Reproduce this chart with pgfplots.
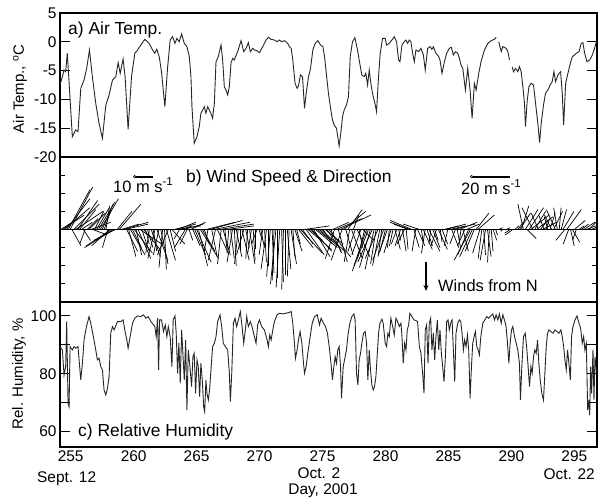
\documentclass[border=0pt]{standalone}
\usepackage{pgfplots}
\usepackage{pgfplotstable}
\pgfplotsset{compat=1.18}
\usetikzlibrary{arrows.meta}
\usepackage{fontspec}
\setmainfont{Liberation Sans}
\newcommand{\fs}[1]{\fontsize{#1}{#1}\selectfont}

\pgfplotstableread{
t T
254.15 -7.50
254.34 -6.05
254.47 -4.90
254.60 -5.19
254.73 -2.00
255.13 -16.47
255.40 -15.31
255.58 -15.60
255.80 -8.08
256.06 -6.63
256.27 -4.61
256.49 -1.42
256.72 -6.05
256.99 -10.68
257.25 -14.15
257.52 -16.76
257.79 -10.97
258.05 -9.24
258.32 -6.63
258.58 -6.05
258.77 -3.62
258.93 -5.47
259.16 -2.99
259.32 -6.05
259.56 -15.20
259.83 -6.05
260.09 -2.00
260.31 -1.42
260.57 -0.56
260.89 0.43
261.23 -0.27
261.50 -1.42
261.68 -2.00
261.84 -1.31
262.03 -2.58
262.21 -5.19
262.48 -11.26
262.69 -4.61
262.90 0.31
263.09 0.89
263.28 -0.27
263.44 0.60
263.62 0.02
263.81 1.35
264.02 -0.27
264.23 -0.84
264.42 -2.58
264.55 -6.05
264.63 -11.26
264.81 -17.63
265.03 -16.47
265.21 -14.73
265.34 -12.42
265.48 -11.84
265.61 -11.26
265.74 -12.42
265.88 -11.26
266.01 -11.84
266.14 -12.42
266.27 -13.29
266.41 -10.68
266.54 -3.45
266.72 -2.58
266.94 -0.56
267.07 -3.16
267.20 -7.79
267.33 -8.37
267.47 -9.24
267.60 -7.79
267.73 -3.74
267.86 -2.87
267.99 -3.16
268.26 -1.71
268.53 0.20
268.74 -1.71
268.93 -1.13
269.11 -0.15
269.27 -1.71
269.46 -1.13
269.59 -1.42
269.80 -1.54
269.99 -1.89
270.25 -0.84
270.52 0.31
270.70 0.78
270.92 0.43
271.18 0.31
271.39 0.02
271.58 0.31
271.76 0.02
271.98 0.20
272.24 -0.27
272.37 -0.84
272.51 -1.13
272.64 -3.16
272.82 -7.21
272.98 -8.08
273.09 -7.67
273.25 -5.76
273.41 -6.05
273.57 -11.55
273.70 -8.95
273.89 -6.05
274.05 -4.61
274.23 -1.42
274.42 -0.27
274.63 0.20
274.84 -0.56
275.03 -0.84
275.16 -2.58
275.47 -8.95
275.66 -11.84
275.79 -13.58
275.92 -14.44
276.11 -15.02
276.32 -18.09
276.45 -15.89
276.59 -13.00
276.72 -11.84
276.90 -10.97
277.06 -9.53
277.20 -2.58
277.38 0.02
277.57 0.72
277.78 -1.42
277.91 -3.16
278.12 -5.76
278.31 -6.05
278.44 -5.47
278.58 -7.50
278.71 -4.90
278.84 -7.21
278.97 -8.95
279.19 -10.97
279.29 -12.13
279.45 -6.05
279.58 -2.00
279.77 0.60
279.98 0.60
280.09 -0.56
280.30 -0.27
280.51 0.31
280.70 0.89
280.88 0.02
281.04 -3.16
281.15 -3.45
281.31 -0.56
281.49 0.02
281.63 0.31
281.76 -0.27
281.89 0.31
282.02 0.02
282.16 -2.00
282.29 -3.45
282.42 -1.42
282.63 -1.71
282.82 -1.13
283.01 -2.29
283.16 -4.90
283.35 -1.13
283.54 -0.84
283.69 -1.31
283.80 -0.84
284.01 -2.00
284.23 -2.58
284.33 -3.16
284.49 -5.47
284.68 -3.45
284.86 -2.00
285.07 -1.13
285.23 -0.96
285.39 -2.29
285.55 -1.71
285.74 -2.00
285.87 -2.87
286.00 -4.03
286.14 -4.61
286.35 -8.37
286.53 -4.61
286.72 -8.37
286.88 -13.29
287.06 -7.21
287.20 -8.37
287.41 -5.47
287.59 -3.45
287.86 -1.42
288.13 -0.27
288.39 0.20
288.66 0.43
288.79 0.78
288.90 nan
289.00 0.02
289.19 -1.71
289.32 -0.84
289.58 -1.13
289.72 -1.71
289.85 -3.16
289.95 nan
290.06 -4.32
290.17 -5.19
290.33 -4.61
290.51 -5.19
290.64 -4.32
290.78 -5.19
290.91 -7.79
291.04 -10.68
291.12 -14.73
291.25 -10.39
291.39 -7.79
291.57 -7.21
291.76 -7.50
291.92 -10.68
292.10 -14.15
292.24 -17.51
292.37 -14.15
292.55 -10.97
292.71 -8.95
292.90 -8.37
293.08 -7.50
293.24 -6.92
293.38 -5.19
293.51 -6.92
293.70 -5.76
293.91 -5.19
294.04 -8.95
294.15 -14.44
294.31 -7.21
294.49 -5.47
294.68 -3.74
294.84 -2.58
295.02 -2.29
295.15 -2.00
295.37 -1.71
295.55 -0.27
295.68 -0.15
295.82 -2.00
296.00 -3.45
296.22 -3.16
296.43 -2.29
296.61 -1.13
296.75 0.02
}\temp

\pgfplotstableread{
t RH
254.15 89.40
254.34 88.24
254.47 79.60
254.60 82.48
254.68 98.04
254.79 69.80
254.87 68.65
254.95 89.40
255.13 88.24
255.27 89.40
255.40 88.82
255.58 89.40
255.69 83.63
255.80 77.87
255.93 83.63
256.06 91.70
256.25 96.31
256.46 99.77
256.59 97.46
256.80 92.85
256.99 88.24
257.12 84.78
257.25 85.36
257.39 82.48
257.52 81.33
257.65 74.41
257.79 72.68
257.92 74.99
258.05 79.02
258.18 94.01
258.32 96.31
258.45 95.16
258.71 98.04
258.98 98.04
259.16 98.62
259.32 94.58
259.46 91.70
259.56 88.82
259.72 92.85
259.91 97.46
260.09 99.19
260.31 100.00
260.57 99.77
260.78 100.35
260.97 99.19
261.15 99.77
261.37 98.04
261.58 96.89
261.68 96.31
261.79 92.85
261.90 99.19
261.98 81.33
262.06 98.62
262.21 98.62
262.37 94.58
262.51 96.89
262.64 92.85
262.75 96.31
262.90 92.85
263.04 82.48
263.14 98.62
263.28 100.00
263.38 94.01
263.49 80.17
263.59 90.55
263.70 76.72
263.81 95.16
263.91 87.09
264.02 77.87
264.13 91.70
264.23 67.49
264.34 88.24
264.47 82.48
264.60 75.56
264.71 85.94
264.81 87.09
264.92 73.26
265.03 84.78
265.13 82.48
265.24 72.10
265.34 83.63
265.45 77.87
265.56 68.65
265.64 66.92
265.74 77.87
265.82 73.26
265.93 70.95
266.03 74.41
266.14 81.33
266.27 89.40
266.41 90.55
266.54 92.85
266.67 98.04
266.86 100.35
266.99 96.31
267.12 90.55
267.28 89.40
267.47 88.24
267.60 80.17
267.68 70.38
267.79 80.17
267.92 97.46
268.05 99.19
268.18 96.31
268.32 98.62
268.47 101.50
268.61 96.31
268.74 90.55
268.87 95.16
268.98 99.77
269.11 96.31
269.27 98.04
269.40 96.31
269.59 92.85
269.72 90.55
269.85 96.89
269.99 98.62
270.17 96.31
270.38 95.16
270.60 91.70
270.70 89.40
270.81 93.43
270.92 91.70
271.05 95.16
271.18 98.04
271.39 100.35
271.58 100.92
271.84 100.69
272.11 100.92
272.32 101.15
272.51 101.50
272.64 97.46
272.77 90.55
272.85 85.36
272.98 88.24
273.09 91.70
273.22 94.58
273.36 90.55
273.49 83.63
273.57 80.17
273.70 82.48
273.83 87.09
274.02 92.85
274.18 97.46
274.36 99.77
274.58 100.35
274.76 96.89
274.89 99.19
275.08 97.46
275.24 96.31
275.39 94.01
275.53 89.40
275.66 84.21
275.79 77.87
275.90 82.48
276.00 85.94
276.11 83.63
276.21 88.24
276.32 89.40
276.43 82.48
276.51 71.53
276.64 82.48
276.75 84.78
276.90 88.24
277.04 94.01
277.17 97.46
277.33 99.77
277.49 100.69
277.59 98.62
277.70 80.17
277.81 76.14
277.91 84.78
278.02 87.09
278.12 90.55
278.26 94.01
278.39 94.58
278.50 90.55
278.60 77.87
278.71 88.24
278.81 81.33
278.92 76.14
279.03 74.41
279.13 75.56
279.24 79.02
279.37 88.24
279.45 94.01
279.56 97.46
279.72 98.85
279.82 97.46
279.98 90.55
280.09 89.40
280.19 94.01
280.30 92.85
280.43 99.19
280.57 96.31
280.70 93.43
280.83 99.19
280.96 98.04
281.10 96.31
281.23 97.46
281.31 92.85
281.41 83.63
281.52 90.55
281.63 88.24
281.73 95.16
281.84 96.89
281.94 100.92
282.10 99.77
282.26 98.62
282.42 98.39
282.55 98.04
282.69 89.40
282.82 87.09
282.95 80.17
283.06 73.26
283.16 95.16
283.27 96.89
283.38 83.63
283.48 97.46
283.59 99.19
283.69 88.24
283.80 94.01
283.91 84.78
284.01 92.85
284.12 98.62
284.23 88.24
284.33 95.16
284.44 87.09
284.54 82.48
284.65 77.29
284.76 85.94
284.86 98.04
284.97 98.62
285.07 95.16
285.18 97.46
285.29 98.62
285.39 88.24
285.50 77.29
285.60 94.01
285.74 97.46
285.87 98.62
285.98 98.04
286.08 94.01
286.19 88.24
286.29 91.70
286.40 89.40
286.51 93.43
286.61 88.24
286.72 71.53
286.83 82.48
286.93 90.55
287.04 92.85
287.14 94.58
287.25 89.40
287.36 88.24
287.46 86.51
287.57 92.85
287.73 97.46
287.89 98.62
288.05 99.77
288.20 99.19
288.36 100.00
288.52 100.69
288.66 98.62
288.79 100.35
288.92 98.62
289.05 100.69
289.19 97.46
289.32 100.35
289.45 98.62
289.58 96.31
289.69 90.55
289.80 83.63
289.90 90.55
290.01 95.16
290.11 96.31
290.25 92.85
290.38 90.55
290.51 88.24
290.64 83.63
290.72 70.95
290.83 82.48
290.96 92.85
291.10 94.01
291.23 88.24
291.33 82.48
291.44 75.56
291.55 82.48
291.65 80.17
291.76 85.94
291.86 88.24
291.97 87.09
292.08 91.70
292.18 83.63
292.29 77.87
292.42 73.26
292.55 70.95
292.66 80.17
292.77 89.40
292.87 94.01
292.98 95.16
293.14 94.58
293.30 94.01
293.46 95.16
293.62 94.58
293.77 94.01
293.93 95.16
294.04 92.85
294.15 89.40
294.25 84.78
294.36 81.33
294.46 88.24
294.57 83.63
294.68 77.87
294.78 92.85
294.89 96.31
295.05 98.62
295.21 100.00
295.37 97.46
295.50 95.73
295.63 90.55
295.74 92.85
295.84 88.24
295.95 90.55
296.06 67.49
296.16 70.95
296.22 65.76
296.29 82.48
296.37 73.26
296.48 88.24
296.56 70.95
296.64 85.94
296.75 80.75
}\rh

\pgfplotstableread{
t u v
254.20 8 5
254.35 12 8
254.50 14 12
254.65 13 17
254.80 12 22
254.95 12.5 23.5
255.10 5 -9
255.25 14 14
255.40 15 10
255.55 11 16
255.70 9 11
255.85 6 4
256.00 4 -6
256.15 -3 -8
256.30 6 6
256.45 9 9
256.60 11 4
256.75 8 -3
256.90 5 10
257.05 7 12
257.20 9 15
257.35 10 17
257.50 6 14
257.65 4 11
257.80 2 13
257.95 -3 -10
258.10 -10 -9
258.25 -14 -9
258.40 -16 -10
258.55 -12 -6
258.70 8 10
258.85 12 14
259.00 10 3
259.15 14 4
259.30 13 3
259.45 6 -12
259.60 4 -15
259.75 8 -14
259.90 5 -10
260.05 10 -13
260.20 3 -14
260.35 7 -16
260.50 12 -8
260.65 4 -12
260.80 9 -11
260.95 2 -8
261.10 3 -10
261.25 -2 -13
261.40 5 -15
261.55 2 -12
261.70 -4 -16
261.85 6 -17
262.00 -3 -14
262.15 4 -19
262.30 -2 -21
262.45 1 -22
262.60 5 -17
262.75 -6 -14
262.90 3 -12
263.05 7 -8
263.20 12 3
263.35 14 2
263.50 10 4
263.65 -3 -5
263.80 6 2
263.95 11 3
264.10 -6 -10
264.25 -4 -8
264.40 2 -6
264.55 8 4
264.70 4 -9
264.85 6 -14
265.00 8 -18
265.15 5 -20
265.30 10 -16
265.45 7 -12
265.60 3 -8
265.75 16 4
265.90 -2 -12
266.05 18 5
266.20 3 -15
266.35 20 4
266.50 -4 -17
266.65 6 -13
266.80 19 3
266.95 -2 -19
267.10 4 -14
267.25 1 -10
267.40 15 2
267.55 -1 -13
267.70 2 -16
267.85 -3 -18
268.00 1 -20
268.15 3 -15
268.30 -2 -19
268.45 0 -12
268.60 4 -17
268.75 -4 -14
268.90 2 -10
269.05 -1 -16
269.20 3 -19
269.35 -2 -13
269.50 1 -17
269.65 0 -11
269.80 -3 -8
269.95 2 -6
270.10 2 -10
270.25 -2 -14
270.40 1 -18
270.55 -3 -22
270.70 0 -20
270.85 -2 -26
271.00 1 -24
271.15 -1 -28
271.30 -3 -30
271.45 0 -27
271.60 -2 -32
271.75 1 -29
271.90 -1 -33
272.05 0 -25
272.20 2 -22
272.35 -1 -26
272.50 3 -19
272.65 1 -15
272.80 4 -12
272.95 2 -8
273.10 8 -10
273.25 12 -13
273.40 6 -8
273.55 14 2
273.70 10 -14
273.85 13 -11
274.00 7 -6
274.15 11 -12
274.30 9 -15
274.45 12 -10
274.60 6 -5
274.75 10 -9
274.90 13 -12
275.05 5 -8
275.20 10 -8
275.35 8 -12
275.50 12 -15
275.65 6 -13
275.80 9 4
275.95 -5 -16
276.10 14 6
276.25 5 -18
276.40 17 8
276.55 -6 -17
276.70 12 10
276.85 4 -14
277.00 8 11
277.15 -3 -18
277.30 6 -16
277.45 3 8
277.60 -4 -12
277.75 7 -15
277.90 2 -10
278.05 -5 -14
278.20 6 -6
278.35 -4 -16
278.50 -7 -20
278.65 -9 -23
278.80 -6 -21
278.95 -8 -18
279.10 -5 -22
279.25 -3 -19
279.40 -7 -16
279.55 -4 -20
279.70 -2 -15
279.85 -6 -17
280.00 -3 -12
280.15 -5 -14
280.30 -1 -10
280.45 -4 -13
280.60 -2 -9
280.75 3 -11
280.90 -3 -8
281.05 1 -6
281.20 -3 -9
281.35 2 -12
281.50 -4 -8
281.65 1 -11
281.80 -8 3
281.95 -11 4
282.10 -12 5
282.25 3 -10
282.40 -2 -12
282.55 4 -9
282.70 -9 3
282.85 1 -7
283.00 5 -11
283.15 -2 -13
283.30 3 -9
283.45 6 -12
283.60 -1 -8
283.75 4 -10
283.90 2 -6
284.05 -3 -9
284.20 5 -11
284.35 1 -7
284.50 3 -8
284.65 8 2
284.80 11 3
284.95 -2 -9
285.10 9 2
285.25 4 -10
285.40 12 3
285.55 -3 -8
285.70 2 -11
285.85 10 4
286.00 -1 -7
286.15 3 -12
286.30 -4 -9
286.45 7 3
286.60 -6 -14
286.75 -9 -17
286.90 -7 -15
287.05 -5 -12
287.20 7 9
287.35 9 8
287.50 -4 -13
287.65 -2 -16
287.80 1 -14
287.95 -3 -17
288.10 2 -15
288.25 -1 -18
288.40 1 -12
288.55 2 -6
288.75 1 -3
289.00 2 1
289.30 -1 -1
289.60 2 1
289.90 -3 -2
290.10 -4 -3
290.30 2 2
290.50 3 4
290.65 6 9
290.80 4 13
290.95 -3 14
291.10 7 11
291.25 5 -5
291.40 8 12
291.55 10 8
291.70 -6 12
291.85 6 10
292.00 9 7
292.15 -4 9
292.30 4 5
292.45 8 4
292.60 -3 8
292.75 2 6
292.90 -2 7
293.05 3 9
293.20 -4 8
293.35 5 10
293.50 -5 11
293.65 -2 12
293.80 1 12
293.95 3 11
294.10 6 10
294.25 -5 -6
294.40 8 11
294.55 -3 -8
294.70 2 -9
294.85 4 -7
295.00 6 5
295.15 -2 -6
295.35 3 2
295.55 4 3
295.75 6 4
295.95 8 3
296.15 5 5
296.35 9 4
296.55 6 2
296.75 4 3
}\wind

\begin{document}
\begin{tikzpicture}
\useasboundingbox (0bp,0bp) rectangle (612bp,-498bp);
\pgfplotsset{
  panel/.style={
    scale only axis, width=537bp,
    xmin=254.15, xmax=296.8,
    axis line style={line width=1.4bp},
    tick align=inside,
    tick style={line width=0.9bp, black},
    xtick={255,260,...,295},
    xtick style={draw=none},
    minor xtick={255,...,296},
    minor tick length=4bp,
    major tick length=10bp,
    tick label style={font=\fs{15.5}},
    /pgf/number format/assume math mode=true,
    clip=true,
  },
}
% panel a
\begin{axis}[panel, at={(60bp,-157bp)}, anchor=south west, height=144bp,
  ymin=-20, ymax=5, ytick={-20,-15,...,5}, xticklabel=\empty]
\addplot[black!85, line width=0.9bp, unbounded coords=jump] table[x=t,y=T]{\temp};
\end{axis}
% panel b
\begin{axis}[panel, at={(60bp,-302bp)}, anchor=south west, height=145bp,
  ymin=-40, ymax=40, ytick={-30,-20,...,30}, yticklabel=\empty, xticklabel=\empty,
  major tick length=5bp]
\addplot[black, line width=0.7bp, quiver={u=\thisrow{u}*0.144, v=\thisrow{v}}] table[x=t, y expr=0]{\wind};
\addplot[black, line width=1.7bp] coordinates {(254.15,0) (296.8,0)};
\end{axis}
% panel c
\begin{axis}[panel, at={(60bp,-447bp)}, anchor=south west, height=145bp,
  ymin=54.7, ymax=104.8, ytick={60,70,...,100}, yticklabels={60,,80,,100},
  xticklabels={255,260,265,270,275,280,285,290,295}]
\addplot[black!85, line width=0.9bp] table[x=t,y=RH]{\rh};
\end{axis}

% panel titles
\node[anchor=base west, inner sep=0] at (68bp,-34bp) {\fs{17.5}a) Air Temp.};
\node[anchor=base west, inner sep=0] at (186bp,-182.5bp) {\fs{17.5}b) Wind Speed \& Direction};
\node[anchor=base west, inner sep=0] at (78bp,-436bp) {\fs{17.5}c) Relative Humidity};
% y labels
\node[rotate=90, inner sep=0] at (20bp,-89bp) {\fs{15}Air Temp., \textsuperscript{o}C};
\node[rotate=90, inner sep=0] at (19bp,-374bp) {\fs{15}Rel. Humidity, \%};
% scale bars
\draw[line width=1.8bp] (134.7bp,-176.7bp) -- (153bp,-176.7bp);
\draw[line width=0.6bp, fill=white] (134.7bp,-176.7bp) circle (1.3bp);
\node[anchor=base west, inner sep=0] at (113bp,-192bp) {\fs{16.5}10 m s\textsuperscript{-1}};
\draw[line width=1.8bp] (471.7bp,-176.7bp) -- (510bp,-176.7bp);
\draw[line width=0.6bp, fill=white] (471.7bp,-176.7bp) circle (1.3bp);
\node[anchor=base west, inner sep=0] at (461bp,-194bp) {\fs{16.5}20 m s\textsuperscript{-1}};
% winds from N
\draw[-{Stealth[length=6bp,width=5bp]}, line width=1.2bp] (426bp,-262bp) -- (426bp,-291bp);
\node[anchor=base west, inner sep=0] at (438bp,-291.5bp) {\fs{16.5}Winds from N};
% date labels
\node[anchor=base west, inner sep=0] at (37bp,-482bp) {\fs{15.5}Sept. 12};
\node[anchor=base, inner sep=0] at (319bp,-478.5bp) {\fs{15.5}Oct. 2};
\node[anchor=base east, inner sep=0] at (595bp,-479.5bp) {\fs{15.5}Oct. 22};
\node[anchor=base, inner sep=0] at (323bp,-494bp) {\fs{15.5}Day, 2001};
\end{tikzpicture}
\end{document}
